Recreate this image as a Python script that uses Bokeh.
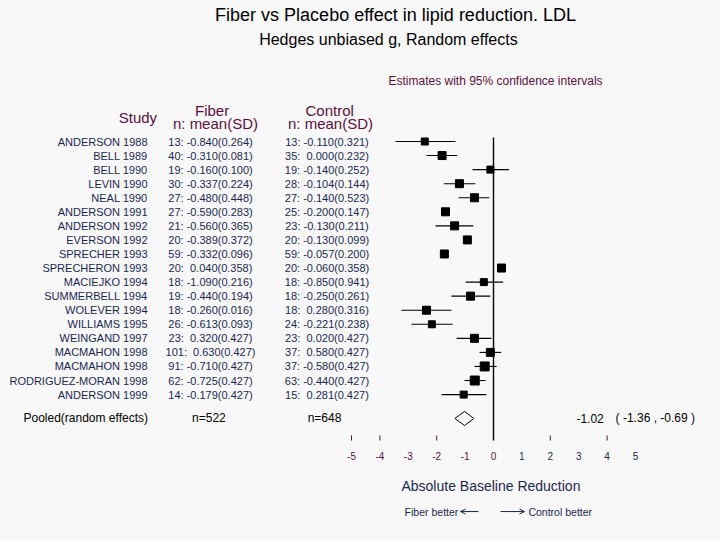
from bokeh.plotting import figure
from bokeh.models import Range1d, Arrow, OpenHead, ColumnDataSource
from bokeh.core.properties import value
from bokeh.embed import file_html
from bokeh.resources import INLINE

# ---------------- data ----------------
studies = ["ANDERSON 1988", "BELL 1989", "BELL 1990", "LEVIN 1990", "NEAL 1990",
           "ANDERSON 1991", "ANDERSON 1992", "EVERSON 1992", "SPRECHER 1993",
           "SPRECHERON 1993", "MACIEJKO 1994", "SUMMERBELL 1994", "WOLEVER 1994",
           "WILLIAMS 1995", "WEINGAND 1997", "MACMAHON 1998", "MACMAHON 1998",
           "RODRIGUEZ-MORAN 1998", "ANDERSON 1999"]
fiber_n = [13, 40, 19, 30, 27, 27, 21, 20, 59, 20, 18, 19, 18, 26, 23, 101, 91, 62, 14]
fiber_mean = [-0.840, -0.310, -0.160, -0.337, -0.480, -0.590, -0.560, -0.389, -0.332,
              0.040, -1.090, -0.440, -0.260, -0.613, 0.320, 0.630, -0.710, -0.725, -0.179]
fiber_sd = [0.264, 0.081, 0.100, 0.224, 0.448, 0.283, 0.365, 0.372, 0.096,
            0.358, 0.216, 0.194, 0.016, 0.093, 0.427, 0.427, 0.427, 0.427, 0.427]
ctrl_n = [13, 35, 19, 28, 27, 25, 23, 20, 59, 20, 18, 18, 18, 24, 23, 37, 37, 63, 15]
ctrl_mean = [-0.110, 0.000, -0.140, -0.104, -0.140, -0.200, -0.130, -0.130, -0.057,
             -0.060, -0.850, -0.250, 0.280, -0.221, 0.020, 0.580, -0.580, -0.440, 0.281]
ctrl_sd = [0.321, 0.232, 0.252, 0.144, 0.523, 0.147, 0.211, 0.099, 0.200,
           0.358, 0.941, 0.261, 0.316, 0.238, 0.427, 0.427, 0.427, 0.427, 0.427]
nan = float("nan")
effect = [-2.42, -1.81, -0.11, -1.20, -0.67, -1.69, -1.37, -0.92, -1.73, 0.28,
          -0.34, -0.81, -2.36, -2.17, -0.67, -0.11, -0.31, -0.66, -1.05]
ci_low = [-3.45, -2.36, -0.74, -1.75, -1.23, nan, -2.04, nan, nan, nan,
          -0.98, -1.48, -3.24, -2.89, -1.30, -0.49, -0.67, -1.02, -1.83]
ci_high = [-1.34, -1.28, 0.55, -0.64, -0.15, nan, -0.71, nan, nan, nan,
           0.34, -0.11, -1.48, -1.44, -0.07, 0.27, 0.11, -0.28, -0.25]
weight = [7, 8, 7, 8, 8, 8, 8, 8, 8, 8, 7, 8, 8, 7, 8, 8, 9, 9, 7]
pooled_n_fiber = 522
pooled_n_ctrl = 648
pooled_est, pooled_lo, pooled_hi = -1.02, -1.36, -0.69
tick_marks = [-5, -4, -2, 2, 4]
tick_labels = [-5, -4, -3, -2, -1, 0, 1, 2, 3, 4, 5]

# ---------------- styling ----------------
BG = "#f8f8f8"
NAVY = "#1a2850"
MAROON = "#5c1040"
FONT = value("Liberation Sans")

W, H = 704, 524
X0, XS = 493, 28.4      # pixel of zero, pixels per unit
Y0, YS = 141, 14.06     # pixel of first row, pixels per row
p = figure(width=W, height=H, output_backend="svg", toolbar_location=None,
           x_range=Range1d(-X0 / XS, (W - X0) / XS),
           y_range=Range1d(1 + (H - Y0) / YS, 1 - Y0 / YS),
           min_border=0, x_axis_location=None, y_axis_location=None)
p.background_fill_color = BG
p.border_fill_color = BG
p.outline_line_color = None
p.xgrid.visible = False
p.ygrid.visible = False

rows = list(range(1, len(studies) + 1))


def fmt(n, m, s):
    ms = f"{m:.3f}" if m < 0 else "\u00a0" + f"{m:.3f}"
    return f"{n}: {ms}({s:.3f})"


src = ColumnDataSource(dict(
    y=rows, study=studies,
    fib=[fmt(a, b, c) for a, b, c in zip(fiber_n, fiber_mean, fiber_sd)],
    ctl=[fmt(a, b, c) for a, b, c in zip(ctrl_n, ctrl_mean, ctrl_sd)],
    est=effect, lo=ci_low, hi=ci_high,
    size=[w * 1.0 for w in weight],
))


def txt(x, y, t, size, color, align="center"):
    p.text(x=[x], y=[y], text=[t], text_font=FONT, text_font_size=value(size),
           text_color=color, text_align=align, text_baseline="middle")


# titles
txt(-3.45, -8.03, "Fiber vs Placebo effect in lipid reduction. LDL", "18px", "#000000")
txt(-3.70, -6.29, "Hedges unbiased g, Random effects", "16px", "#000000")
txt(3.84, -3.3, "Estimates with 95% confidence intervals", "12px", MAROON, align="right")

# headers
txt(-12.52, -0.71, "Study", "15px", MAROON)
txt(-9.91, -1.2, "Fiber", "15px", MAROON)
txt(-9.79, -0.28, "n: mean(SD)", "15px", MAROON)
txt(-5.77, -1.2, "Control", "15px", MAROON)
txt(-5.74, -0.28, "n: mean(SD)", "15px", MAROON)

# rows of text
for col, xx, al in (("study", -12.18, "right"), ("fib", -9.965, "center"),
                    ("ctl", -5.863, "center")):
    p.text(x=xx, y="y", text=col, source=src, text_font=FONT,
           text_font_size=value("11px"), text_color=NAVY, text_align=al,
           text_baseline="middle")

# zero line
p.segment(x0=[0], x1=[0], y0=[0.72], y1=[22.27], line_color="black", line_width=1.4)

# CIs and squares
p.segment(x0="lo", x1="hi", y0="y", y1="y", source=src, line_color="black", line_width=1.1)
p.scatter(x="est", y="y", size="size", marker="square", source=src,
          fill_color="black", line_color="black")

# pooled
py = 20.7
txt(-16.55, py, "Pooled(random effects)", "12px", "#000000", align="left")
txt(-10.02, py, f"n={pooled_n_fiber}", "12px", "#000000")
txt(-5.95, py, f"n={pooled_n_ctrl}", "12px", "#000000")
txt(2.92, py, f"{pooled_est:.2f}", "12px", "#000000", align="left")
txt(4.30, py, f"( {pooled_lo:.2f} , {pooled_hi:.2f} )", "12px", "#000000", align="left")
dh = 0.5
p.patch(x=[pooled_lo, pooled_est, pooled_hi, pooled_est],
        y=[py, py - dh, py, py + dh], fill_color=BG, line_color="black", line_width=1)

# axis ticks
p.segment(x0=tick_marks, x1=tick_marks, y0=[21.91] * len(tick_marks),
          y1=[22.27] * len(tick_marks), line_color=MAROON, line_width=1)
p.text(x=tick_labels, y=[23.4] * len(tick_labels), text=[str(t) for t in tick_labels],
       text_font=FONT, text_font_size=value("10px"),
       text_color=[MAROON if t <= 0 else NAVY for t in tick_labels],
       text_align="center", text_baseline="middle")

txt(-0.09, 25.47, "Absolute Baseline Reduction", "14px", NAVY)
txt(-3.13, 27.32, "Fiber better", "10.5px", NAVY, align="left")
txt(1.23, 27.32, "Control better", "10.5px", NAVY, align="left")
p.add_layout(Arrow(x_start=-0.528, x_end=-1.162, y_start=27.32, y_end=27.32,
                   line_color=NAVY, line_width=1,
                   end=OpenHead(size=5, line_color=NAVY, line_width=1)))
p.add_layout(Arrow(x_start=0.246, x_end=1.09, y_start=27.32, y_end=27.32,
                   line_color=NAVY, line_width=1,
                   end=OpenHead(size=5, line_color=NAVY, line_width=1)))

html = file_html(p, INLINE)
html = html.replace("</head>", "<style>html,body{background:%s;}</style></head>" % BG, 1)
open("out.html", "w").write(html)
